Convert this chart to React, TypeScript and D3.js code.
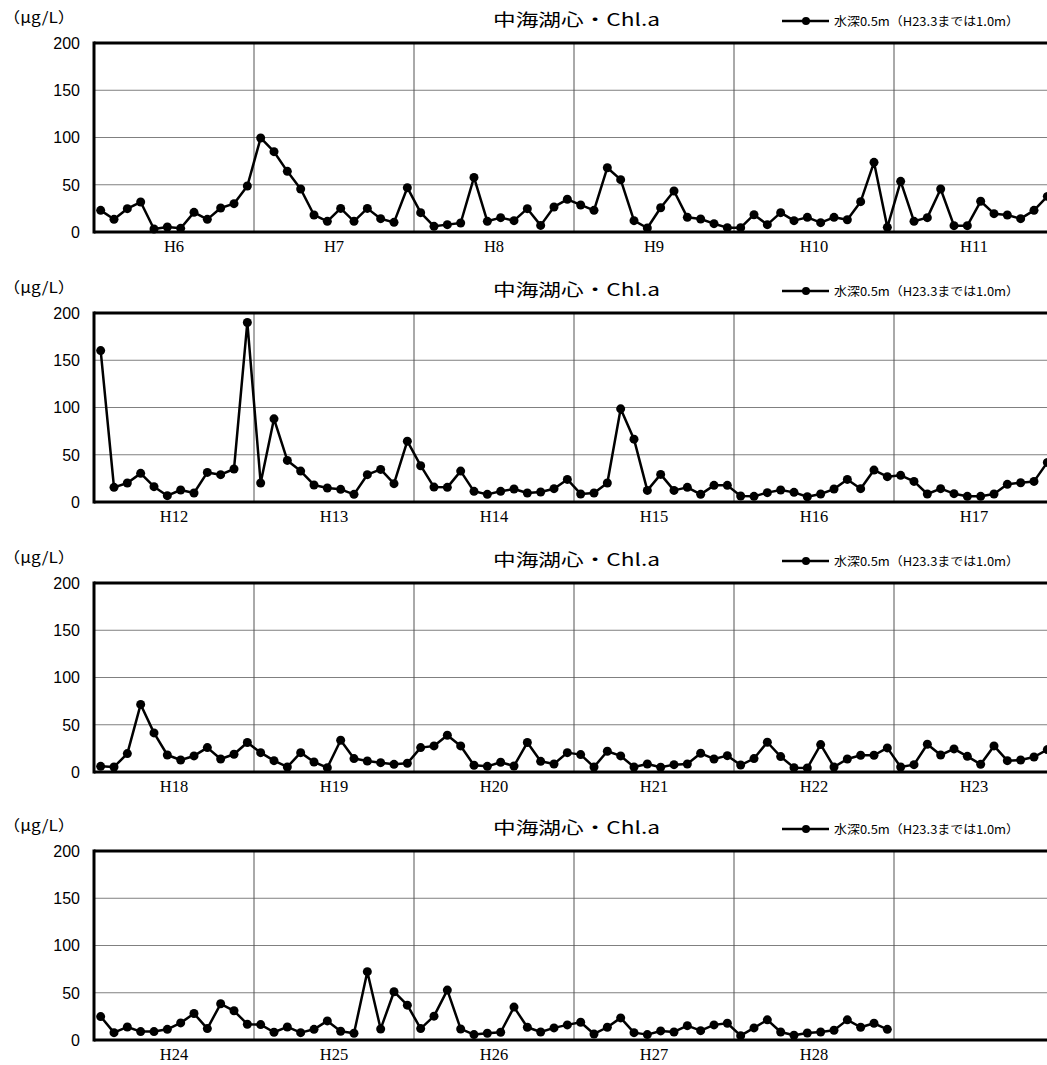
import React, { useEffect, useRef } from "react";
import * as d3 from "d3";

const yearsP1 = ["H6", "H7", "H8", "H9", "H10", "H11"];
const yearsP2 = ["H12", "H13", "H14", "H15", "H16", "H17"];
const yearsP3 = ["H18", "H19", "H20", "H21", "H22", "H23"];
const yearsP4 = ["H24", "H25", "H26", "H27", "H28", ""];

const chlP1 = [
  22.9, 13.4, 24.7, 31.7, 3.2, 5.3, 3.9, 20.8, 13.4, 25.4, 30, 48.7,
  99.5, 85, 64.2, 45.5, 18, 11.3, 25, 11.3, 25, 14.1, 10.2, 46.9,
  20.5, 6, 7.8, 9.5, 57.8, 11.3, 15.2, 12, 24.7, 7, 26.5, 34.6,
  28.6, 22.9, 68, 55.4, 12, 4.2, 25.7, 43.4, 15.5, 13.8, 8.8, 4.6,
  4.6, 18.3, 7.8, 20.5, 12, 15.5, 9.9, 15.5, 13, 32.1, 73.7, 4.9,
  53.6, 11.3, 15.2, 45.5, 6.7, 6.7, 32.5, 19.4, 18, 14.1, 22.9, 37.7,
];
const chlP2 = [
  160.2, 15.5, 20.1, 30.3, 16.2, 6.7, 12.7, 9.5, 31.3, 28.9, 34.9, 190,
  20.1, 88, 44, 32.7, 18, 14.8, 13.4, 8.1, 28.9, 34.5, 19.4, 64.4,
  38.4, 15.8, 15.5, 32.7, 11.3, 8.1, 11.3, 13.7, 9.5, 10.6, 14.1, 23.9,
  8.5, 9.5, 20.1, 98.6, 66.5, 12.3, 29.2, 12.3, 15.5, 8.1, 17.6, 17.6,
  6.3, 6, 9.9, 12.7, 10.2, 5.6, 8.5, 13.7, 23.9, 14.1, 33.8, 26.8,
  28.2, 21.8, 8.5, 14.1, 8.8, 6, 6, 8.5, 18.7, 20.4, 21.8, 41.9,
];
const chlP3 = [
  6, 5.3, 19.5, 71.5, 41.4, 18, 12.7, 17, 25.8, 13.8, 18.8, 31.2,
  20.5, 12, 5.3, 20.5, 10.6, 4.6, 33.6, 14.2, 11.7, 9.9, 8.1, 9.2,
  25.8, 27.6, 38.9, 27.6, 7.1, 6, 10.3, 6.4, 31.2, 11.3, 8.5, 20.5,
  18.4, 5.3, 22, 17, 5.3, 8.5, 5, 7.8, 8.5, 19.8, 13.8, 17.3,
  7.4, 14.2, 31.5, 16.3, 4.6, 4.2, 29, 5.3, 13.8, 17.7, 17.7, 25.5,
  5.3, 7.8, 29.4, 18, 24.4, 16.6, 8.1, 27.6, 12, 12.7, 15.9, 23.7,
];
const chlP4 = [
  24.8, 7.8, 13.8, 8.9, 8.9, 11.3, 18.1, 28, 12.1, 38.3, 30.9, 16.7,
  16.3, 8.2, 13.8, 7.8, 11.3, 20.2, 9.2, 7.1, 72.3, 11.7, 51.1, 36.9,
  12.1, 25.2, 52.8, 11.7, 5.7, 7.1, 8.2, 34.8, 13.5, 8.5, 12.8, 16,
  18.8, 6.4, 13.5, 23.4, 7.8, 5.7, 9.6, 8.5, 15.2, 9.9, 16, 17.7,
  4.6, 12.8, 21.3, 8.5, 5, 7.4, 8.5, 10.3, 21.3, 13.5, 17.7, 11.3,
];

const yTicks = [0, 50, 100, 150, 200];
const titleText = "中海湖心・Chl.a";
const legendText = "水深0.5m（H23.3までは1.0m）";
const unitText = "（μg/L）";

const panels = [
  { years: yearsP1, values: chlP1 },
  { years: yearsP2, values: chlP2 },
  { years: yearsP3, values: chlP3 },
  { years: yearsP4, values: chlP4 },
];

const W = 1047;
const H = 1065;
const panelTops = [43, 313, 583, 851];
const plotH = 189;
const plotLeft = 94;
const yearW = 160;

export default function App() {
  const ref = useRef<SVGSVGElement>(null);

  useEffect(() => {
    const svg = d3.select(ref.current);
    svg.selectAll("*").remove();

    panels.forEach((p, pi) => {
      const top = panelTops[pi];
      const bottom = top + plotH;
      const g = svg.append("g");
      const x = d3.scaleLinear().domain([0, 72]).range([plotLeft, plotLeft + 6 * yearW]);
      const y = d3.scaleLinear().domain([0, 200]).range([bottom, top]);

      g.selectAll("line.hg")
        .data(yTicks.filter((t) => t > 0 && t < 200))
        .enter()
        .append("line")
        .attr("x1", plotLeft)
        .attr("x2", W)
        .attr("y1", (d) => y(d))
        .attr("y2", (d) => y(d))
        .attr("stroke", "#808080")
        .attr("stroke-width", 1);

      g.selectAll("line.vg")
        .data(d3.range(1, 6))
        .enter()
        .append("line")
        .attr("x1", (d) => x(d * 12))
        .attr("x2", (d) => x(d * 12))
        .attr("y1", top)
        .attr("y2", bottom)
        .attr("stroke", "#555")
        .attr("stroke-width", 1);

      g.append("line").attr("x1", plotLeft).attr("x2", W).attr("y1", top).attr("y2", top)
        .attr("stroke", "#000").attr("stroke-width", 3);
      g.append("line").attr("x1", plotLeft).attr("x2", W).attr("y1", bottom).attr("y2", bottom)
        .attr("stroke", "#000").attr("stroke-width", 3);
      g.append("line").attr("x1", plotLeft).attr("x2", plotLeft).attr("y1", top - 1.5).attr("y2", bottom + 1.5)
        .attr("stroke", "#000").attr("stroke-width", 3);

      g.selectAll("text.yt")
        .data(yTicks)
        .enter()
        .append("text")
        .attr("x", 80)
        .attr("y", (d) => y(d))
        .attr("dy", "0.36em")
        .attr("text-anchor", "end")
        .attr("font-family", "'Liberation Sans', Arial, sans-serif")
        .attr("font-size", 16)
        .attr("fill", "#000")
        .text((d) => String(d));

      g.selectAll("text.yr")
        .data(p.years)
        .enter()
        .append("text")
        .attr("x", (_d, i) => x(i * 12 + 6))
        .attr("y", bottom + 20)
        .attr("text-anchor", "middle")
        .attr("font-family", "'Liberation Serif', 'Times New Roman', serif")
        .attr("font-size", 16.5)
        .attr("fill", "#000")
        .text((d) => d);

      g.append("text")
        .attr("x", 3)
        .attr("y", top - 20)
        .attr("font-family", "'Noto Sans CJK JP', sans-serif")
        .attr("font-size", 15)
        .attr("textLength", 72)
        .attr("lengthAdjust", "spacingAndGlyphs")
        .text(unitText);

      g.append("text")
        .attr("x", 493)
        .attr("y", top - 17)
        .attr("font-family", "'Noto Sans CJK JP', sans-serif")
        .attr("font-size", 17)
        .attr("textLength", 167)
        .attr("lengthAdjust", "spacingAndGlyphs")
        .text(titleText);

      const ly = top - 22;
      g.append("line").attr("x1", 782).attr("x2", 829).attr("y1", ly).attr("y2", ly)
        .attr("stroke", "#000").attr("stroke-width", 2.5);
      g.append("circle").attr("cx", 806).attr("cy", ly).attr("r", 4).attr("fill", "#000");
      g.append("text")
        .attr("x", 834)
        .attr("y", ly + 4.5)
        .attr("font-family", "'Noto Sans CJK JP', sans-serif")
        .attr("font-size", 12)
        .attr("textLength", 185)
        .attr("lengthAdjust", "spacingAndGlyphs")
        .text(legendText);

      const line = d3
        .line<number>()
        .x((_d, i) => x(i + 0.5))
        .y((d) => y(d));
      g.append("path")
        .datum(p.values)
        .attr("d", line)
        .attr("fill", "none")
        .attr("stroke", "#000")
        .attr("stroke-width", 2.5)
        .attr("stroke-linejoin", "round");
      g.selectAll("circle.pt")
        .data(p.values)
        .enter()
        .append("circle")
        .attr("cx", (_d, i) => x(i + 0.5))
        .attr("cy", (d) => y(d))
        .attr("r", 4.5)
        .attr("fill", "#000");
    });
  }, []);

  return (
    <div style={{ position: "absolute", left: 0, top: 0 }}>
      <svg ref={ref} width={W} height={H} style={{ display: "block", background: "#fff" }} />
    </div>
  );
}
